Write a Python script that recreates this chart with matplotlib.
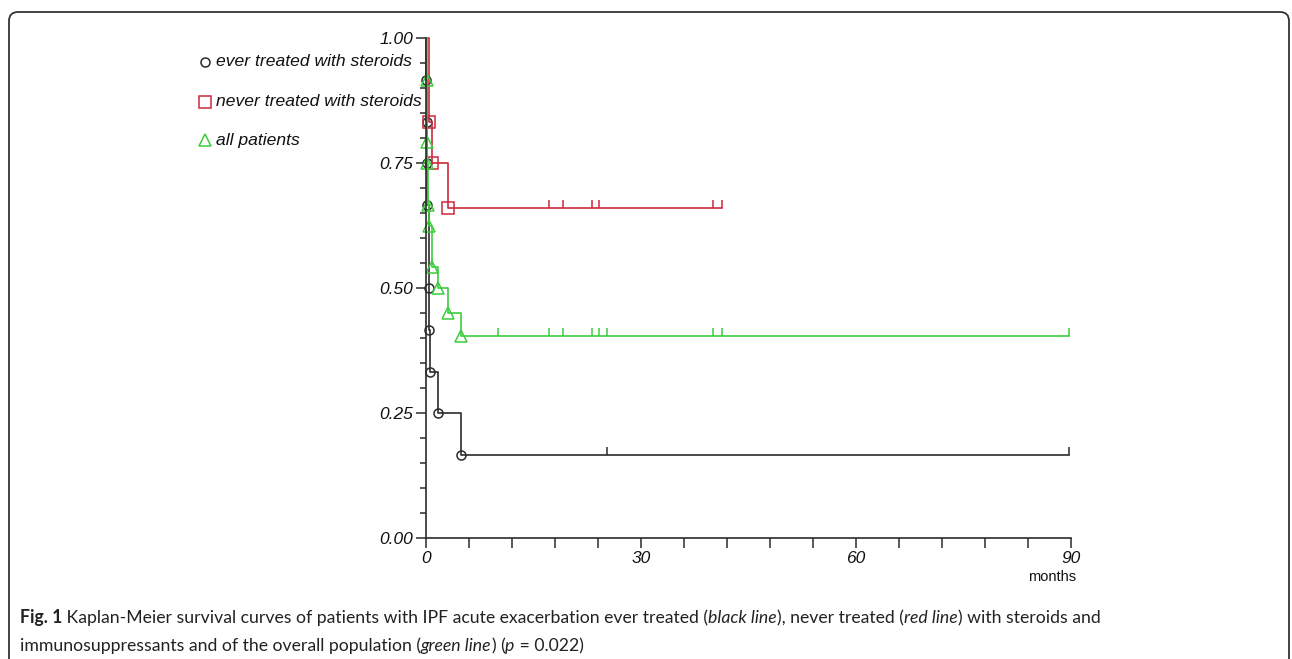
import matplotlib
matplotlib.use("Agg")
import matplotlib.pyplot as plt
from matplotlib.path import Path
from matplotlib.patches import FancyBboxPatch
from matplotlib.lines import Line2D

# ---------------- data ----------------
black_times = [0, 0.05, 0.1, 0.15, 0.2, 0.4, 0.45, 0.55, 1.7, 4.9]
black_surv = [1.0, 0.917, 0.833, 0.75, 0.667, 0.5, 0.417, 0.333, 0.25, 0.167]
black_censor = [25.3, 89.7]

red_times = [0, 0.4, 0.8, 3.1]
red_surv = [1.0, 0.833, 0.75, 0.66]
red_censor = [17.2, 19.1, 23.2, 24.1, 40.0, 41.3]

green_times = [0, 0.1, 0.15, 0.2, 0.3, 0.45, 0.8, 1.7, 3.1, 4.95]
green_surv = [1.0, 0.917, 0.792, 0.75, 0.667, 0.625, 0.542, 0.5, 0.45, 0.405]
green_censor = [10.0, 17.2, 19.1, 23.2, 24.1, 25.3, 40.0, 41.3, 89.7]

legend_labels = ["ever treated with steroids", "never treated with steroids", "all patients"]
y_ticks = [0.0, 0.25, 0.5, 0.75, 1.0]
y_ticklabels = ["0.00", "0.25", "0.50", "0.75", "1.00"]
x_ticks = [0, 30, 60, 90]
x_ticklabels = ["0", "30", "60", "90"]

BLACK = "#2b2b2b"
RED = "#cc2a3c"
GREEN = "#3dcc3d"

W, H = 1292, 659
fig = plt.figure(figsize=(W / 100, H / 100), dpi=100)

# outer rounded frame
frame = FancyBboxPatch((0.09, -0.3), 12.80, 6.77,
                       boxstyle="round,pad=0,rounding_size=0.09",
                       transform=fig.dpi_scale_trans, fill=False,
                       edgecolor="#333333", linewidth=1.3, clip_on=False)
fig.patches.append(frame)

ax = fig.add_axes([426 / W, (H - 538) / H, 645 / W, 500 / H])
ax.set_xlim(0, 90)
ax.set_ylim(0, 1)
for s in ["top", "right"]:
    ax.spines[s].set_visible(False)
for s in ["left", "bottom"]:
    ax.spines[s].set_color(BLACK)
    ax.spines[s].set_linewidth(1.2)

censor_marker = Path([(0, 0), (0, 1)], [Path.MOVETO, Path.LINETO])

def km(times, surv, censor, color, marker, ms):
    xs = list(times) + [censor[-1]]
    ys = list(surv) + [surv[-1]]
    ax.step(xs, ys, where="post", color=color, lw=1.2, clip_on=False)
    ax.plot(times[1:], surv[1:], linestyle="none", marker=marker, ms=ms,
            mfc="none", mec=color, mew=1.1, clip_on=False)
    ax.plot(censor, [surv[-1]] * len(censor), linestyle="none",
            marker=censor_marker, ms=12, mec=color, mew=1.1, clip_on=False)

km(black_times, black_surv, black_censor, BLACK, "o", 6.5)
km(red_times, red_surv, red_censor, RED, "s", 8.5)
km(green_times, green_surv, green_censor, GREEN, "^", 8.5)

ax.set_yticks(y_ticks)
ax.set_yticklabels(y_ticklabels)
ax.set_yticks([i * 0.05 for i in range(21)], minor=True)
ax.set_xticks(x_ticks)
ax.set_xticklabels(x_ticklabels)
ax.set_xticks([i * 6 for i in range(16)], minor=True)
ax.tick_params(axis="y", which="major", length=7.5, width=1.1, color=BLACK, pad=2)
ax.tick_params(axis="y", which="minor", length=4, width=1.1, color=BLACK)
ax.tick_params(axis="x", which="both", length=7.5, width=1.1, color=BLACK, pad=2)
for lab in ax.get_xticklabels() + ax.get_yticklabels():
    lab.set_fontstyle("italic")
    lab.set_fontfamily("Liberation Sans")
    lab.set_fontsize(12.5)
    lab.set_color("#111111")

fig.text(1052 / W, 1 - 577 / H, "months", ha="center", va="center",
         fontsize=10.5, family="Liberation Sans", color="#111111", fontweight="medium")

# legend (manual)
leg = [(62, BLACK, "o", 6.5), (102, RED, "s", 9), (140, GREEN, "^", 9)]
for (yp, col, mk, ms), lab in zip(leg, legend_labels):
    fig.add_artist(Line2D([205 / W], [1 - yp / H], marker=mk, ms=ms, mfc="none",
                          mec=col, mew=1.1, linestyle="none", transform=fig.transFigure))
    fig.text(216 / W, 1 - yp / H, lab, ha="left", va="center", fontsize=12.6,
             fontstyle="italic", family="Liberation Sans", color="#111111")

# caption
fig.canvas.draw()
renderer = fig.canvas.get_renderer()

def draw_line(pieces, x0, ypix):
    x = x0
    for txt, kw in pieces:
        t = fig.text(x / W, 1 - ypix / H, txt, ha="left", va="baseline",
                     fontsize=12.7, family="Lato", color="#222222", **kw)
        bb = t.get_window_extent(renderer=renderer)
        x += bb.width

line1 = [("Fig. 1", dict(fontweight="bold")),
         (" Kaplan-Meier survival curves of patients with IPF acute exacerbation ever treated (", {}),
         ("black line", dict(fontstyle="italic")),
         ("), never treated (", {}),
         ("red line", dict(fontstyle="italic")),
         (") with steroids and", {})]
line2 = [("immunosuppressants and of the overall population (", {}),
         ("green line", dict(fontstyle="italic")),
         (") (", {}),
         ("p", dict(fontstyle="italic")),
         (" = 0.022)", {})]
draw_line(line1, 20, 623)
draw_line(line2, 20, 651)

fig.savefig("out.png", dpi=100)
